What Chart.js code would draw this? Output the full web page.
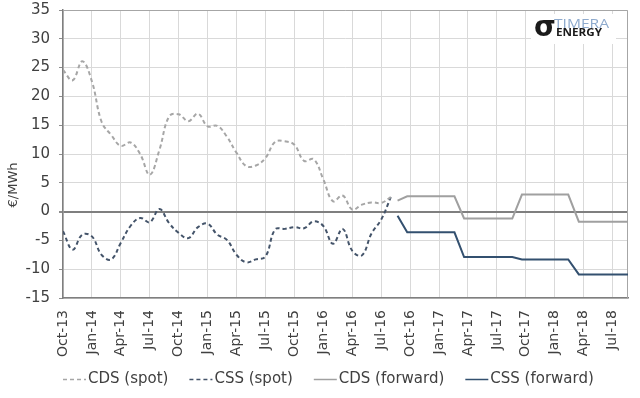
<!DOCTYPE html>
<html lang="en">
<head>
<meta charset="UTF-8">
<title>CDS / CSS spot and forward</title>
<script src="https://cdn.jsdelivr.net/npm/chart.js@4.4.3/dist/chart.umd.min.js"></script>
<style>
  body { margin: 0; background: #fff; }
  #wrap { width: 640px; height: 398px; }
</style>
</head>
<body>
<div id="wrap"><canvas id="mychart" width="640" height="398"></canvas></div>
<script>
// axis labels, one every 3 months from Oct-13
var tickLabels = ['Oct-13', 'Jan-14', 'Apr-14', 'Jul-14', 'Oct-14', 'Jan-15', 'Apr-15', 'Jul-15',
    'Oct-15', 'Jan-16', 'Apr-16', 'Jul-16', 'Oct-16', 'Jan-17', 'Apr-17', 'Jul-17',
    'Oct-17', 'Jan-18', 'Apr-18', 'Jul-18'];

// monthly spot spreads Oct-13 .. Aug-16, EUR/MWh
var cdsSpot = [24.6, 22.8, 26.1, 22.6, 15.6, 13.3, 11.4, 12.0, 10.0, 6.4, 10.7, 16.5,
    16.9, 15.7, 17.0, 14.8, 14.9, 13.0, 10.2, 7.9, 8.0, 9.3, 12.1, 12.2,
    11.6, 8.8, 9.1, 5.6, 1.8, 2.8, 0.35, 1.2, 1.6, 1.5, 2.5];
var cssSpot = [-3.4, -6.6, -4.0, -4.3, -7.5, -8.3, -5.4, -2.5, -1.1, -1.85, 0.45, -2.0,
    -3.7, -4.6, -2.7, -2.1, -4.0, -4.9, -7.5, -8.8, -8.3, -7.8, -3.1, -3.0,
    -2.7, -2.9, -1.7, -2.5, -5.6, -3.0, -6.8, -7.6, -3.8, -1.4, 2.5];

// forward curve: months after Oct-13 and values
var fwdMonths = [34.7, 35.7, 40.6, 41.6, 46.6, 47.6, 52.4, 53.5, 58.6];
var cdsForward = [1.9, 2.65, 2.65, -1.2, -1.2, 2.95, 2.95, -1.75, -1.75];
var cssForward = [-0.7, -3.6, -3.6, -7.9, -7.9, -8.3, -8.3, -10.9, -10.9];

var FONT = 'DejaVu Sans';
var TEXT = '#404040';

function spotPoints(arr) {
    return arr.map(function (v, i) { return { x: i, y: v }; });
}
function fwdPoints(arr) {
    return arr.map(function (v, i) { return { x: fwdMonths[i], y: v }; });
}

function drawFit(ctx, txt, x, y, w, font, color) {
    ctx.save();
    ctx.font = font;
    ctx.fillStyle = color;
    ctx.textBaseline = 'alphabetic';
    var m = ctx.measureText(txt).width;
    ctx.translate(x, y);
    ctx.scale(w / m, 1);
    ctx.fillText(txt, 0, 0);
    ctx.restore();
}

// top/right frame, logo, y title and legend
var extras = {
    id: 'extras',
    beforeDatasetsDraw: function (chart) {
        var ctx = chart.ctx, a = chart.chartArea;
        ctx.save();
        ctx.strokeStyle = '#a6a6a6';
        ctx.lineWidth = 1;
        ctx.beginPath();
        ctx.moveTo(a.left, a.top + 0.5);
        ctx.lineTo(a.right - 0.5, a.top + 0.5);
        ctx.lineTo(a.right - 0.5, a.bottom);
        ctx.stroke();
        ctx.restore();
    },
    afterDraw: function (chart) {
        var ctx = chart.ctx, a = chart.chartArea;

        // logo
        ctx.save();
        ctx.fillStyle = '#fff';
        ctx.fillRect(a.right - 97, a.top + 4, 85, 30);
        ctx.fillStyle = '#1a1a1a';
        ctx.font = 'bold 28px "DejaVu Sans"';
        ctx.textBaseline = 'alphabetic';
        ctx.fillText('σ', a.right - 94, a.top + 25.5);
        ctx.restore();
        drawFit(ctx, 'TIMERA', a.right - 74, a.top + 18, 55, '12px "Open Sans"', '#8eaacd');
        drawFit(ctx, 'ENERGY', a.right - 72, a.top + 25.5, 46, 'bold 10px "Open Sans"', '#1a1a1a');

        // y title
        ctx.save();
        ctx.translate(14, 185);
        ctx.rotate(-Math.PI / 2);
        ctx.font = '13px ' + FONT;
        ctx.fillStyle = TEXT;
        ctx.textAlign = 'center';
        ctx.textBaseline = 'middle';
        ctx.fillText('€/MWh', 0, 0);
        ctx.restore();

        // legend
        ctx.save();
        var x = a.left, y = 379;
        ctx.font = '15px ' + FONT;
        ctx.textBaseline = 'middle';
        chart.data.datasets.forEach(function (ds) {
            ctx.strokeStyle = ds.borderColor;
            ctx.lineWidth = 1.5;
            ctx.setLineDash(ds.borderDash || []);
            ctx.beginPath();
            ctx.moveTo(x, y + 0.5);
            ctx.lineTo(x + 23, y + 0.5);
            ctx.stroke();
            ctx.setLineDash([]);
            x += 25;
            ctx.fillStyle = TEXT;
            ctx.fillText(ds.label, x, y);
            x += ctx.measureText(ds.label).width + 21;
        });
        ctx.restore();
    }
};

var data = {
    datasets: [
        {
            label: 'CDS (spot)',
            data: spotPoints(cdsSpot),
            borderColor: '#a6a6a6',
            borderWidth: 2,
            borderDash: [4, 3],
            tension: 0.4
        },
        {
            label: 'CSS (spot)',
            data: spotPoints(cssSpot),
            borderColor: '#44546a',
            borderWidth: 2,
            borderDash: [4, 3],
            tension: 0.4
        },
        {
            label: 'CDS (forward)',
            data: fwdPoints(cdsForward),
            borderColor: '#a0a0a0',
            borderWidth: 2,
            tension: 0
        },
        {
            label: 'CSS (forward)',
            data: fwdPoints(cssForward),
            borderColor: '#33506f',
            borderWidth: 2,
            tension: 0
        }
    ]
};

var config = {
    type: 'line',
    data: data,
    options: {
        responsive: false,
        animation: false,
        layout: { padding: { left: 16, right: 12, top: 10, bottom: 40 } },
        elements: { point: { radius: 0 } },
        scales: {
            x: {
                type: 'linear',
                min: 0,
                max: fwdMonths[fwdMonths.length - 1],
                afterFit: function (s) { s.height = 60; s.paddingLeft = 0; s.paddingRight = 0; },
                grid: { color: '#d9d9d9', drawTicks: false },
                border: { color: '#7f7f7f', width: 1.5 },
                ticks: {
                    stepSize: 3,
                    autoSkip: false,
                    includeBounds: false,
                    minRotation: 90,
                    maxRotation: 90,
                    padding: 12,
                    color: TEXT,
                    font: { family: FONT, size: 14 },
                    callback: function (v) { return tickLabels[v / 3]; }
                }
            },
            y: {
                min: -15,
                max: 35,
                afterFit: function (s) { s.width = 47; s.paddingTop = 0; s.paddingBottom = 0; },
                grid: {
                    color: function (c) { return c.tick && c.tick.value === 0 ? '#7f7f7f' : '#d9d9d9'; },
                    lineWidth: function (c) { return c.tick && c.tick.value === 0 ? 2 : 1; },
                    tickLength: 4,
                    tickColor: '#8c8c8c'
                },
                border: { color: '#7f7f7f', width: 1.5 },
                ticks: {
                    stepSize: 5,
                    padding: 9,
                    color: TEXT,
                    font: { family: FONT, size: 15 }
                }
            }
        },
        plugins: {
            legend: { display: false },
            tooltip: { enabled: false }
        }
    },
    plugins: [extras]
};

var mychart = new Chart(document.getElementById('mychart'), config);
</script>
</body>
</html>
